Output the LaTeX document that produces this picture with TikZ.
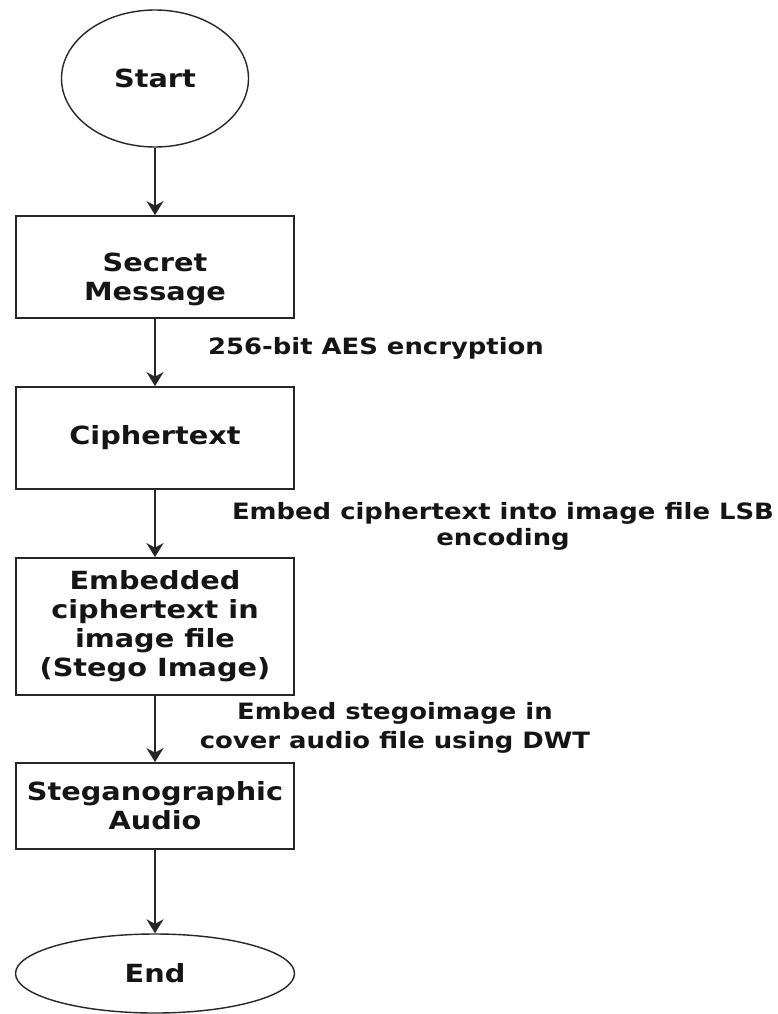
\documentclass[tikz,border=0pt]{standalone}
\usepackage{fontspec}
\setmainfont{DejaVu Sans}[FakeStretch=1.15]
\usetikzlibrary{shapes.geometric,arrows.meta}

\definecolor{ink}{HTML}{151515}
\definecolor{edge}{HTML}{262626}

\begin{document}
\begin{tikzpicture}[x=1pt,y=-1pt,
  boxtext/.style={font=\bfseries\fontsize{25}{29}\selectfont, text=ink, align=center},
  proc/.style={draw=edge, line width=1.8pt, rectangle, minimum width=278pt,
               inner sep=0pt, boxtext},
  term/.style={draw=edge, line width=1.4pt, ellipse, inner sep=0pt, boxtext},
  lbl/.style={font=\bfseries\fontsize{22.5}{26}\selectfont, text=ink, align=center, inner sep=0pt},
  arr/.style={draw=edge, line width=1.7pt, -{Stealth[length=14pt,width=17pt,inset=4.5pt]}}]

  % canvas
  \fill[white] (0,0) rectangle (778,1014);
  \useasboundingbox (0,0) rectangle (778,1014);

  % flow steps
  \node[term, minimum width=187pt, minimum height=137pt] (start) at (155,78.5) {Start};
  \node[proc, minimum height=102pt,
        label={[name=secrettxt, yshift=-12pt, boxtext, inner sep=0pt]center:{Secret\\Message}}]
        (secret) at (155,267) {};
  \node[proc, minimum height=102pt] (cipher) at (155,438) {Ciphertext};
  \node[proc, minimum height=137pt] (embedded) at (155,626.5)
        {Embedded\\ciphertext in\\image file\\(Stego Image)};
  \node[proc, minimum height=86pt] (audio) at (155,806) {Steganographic\\Audio};
  \node[term, minimum width=279pt, minimum height=79pt] (end) at (155,973.5) {End};

  % connectors
  \draw[arr] (start) -- (secret);
  \draw[arr] (secret) -- (cipher);
  \draw[arr] (cipher) -- (embedded);
  \draw[arr] (embedded) -- (audio);
  \draw[arr] (audio) -- (end);

  % step descriptions
  \node[lbl] (aes) at (376,348) {256-bit AES encryption};
  \node[lbl] (lsb) at (503,526) {Embed ciphertext into image file LSB\\encoding};
  \node[lbl, font=\bfseries\fontsize{22.5}{29}\selectfont] (dwt) at (395,728)
        {Embed stegoimage in\\cover audio file using DWT};
\end{tikzpicture}
\end{document}
